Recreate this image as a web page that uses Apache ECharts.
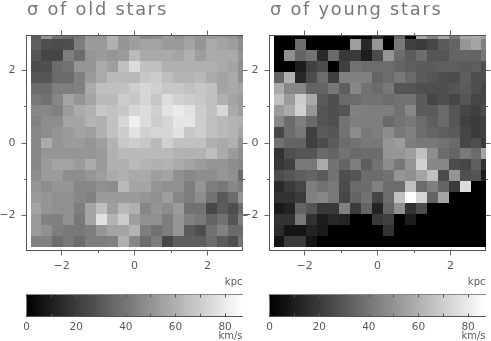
<!DOCTYPE html>
<html><head><meta charset="utf-8">
<style>html,body{margin:0;padding:0;background:#fff}#c{width:491px;height:341px;filter:blur(0.4px)}</style>
<script src="https://cdn.jsdelivr.net/npm/echarts@6/dist/echarts.min.js"></script>
</head><body><div id="c"></div>
<script>
const titles = ['σ of old stars', 'σ of young stars'];
const xCells = [-2.7,-2.4,-2.1,-1.8,-1.5,-1.2,-0.9,-0.6,-0.3,0,0.3,0.6,0.9,1.2,1.5,1.8,2.1,2.4,2.7,3.0];
const yCells = [3.0,2.7,2.4,2.1,1.8,1.5,1.2,0.9,0.6,0.3,0,-0.3,-0.6,-0.9,-1.2,-1.5,-1.8,-2.1,-2.4,-2.7];
const oldStars = [
[31,51,39,36,41,51,51,61,51,54,46,48,53,49,54,51,53,53,51,44],
[32,27,26,27,43,53,53,60,51,54,56,56,53,53,56,51,58,56,54,48],
[29,24,24,43,37,51,53,51,53,63,58,58,58,56,60,54,58,58,58,51],
[26,27,37,39,51,51,58,54,66,75,66,65,60,60,60,60,60,58,56,49],
[29,29,36,36,44,53,58,63,63,63,68,70,65,61,61,63,58,56,58,49],
[37,37,43,43,44,58,65,65,66,70,73,71,68,68,66,68,66,56,58,56],
[41,39,46,56,51,56,63,63,70,68,73,68,75,71,70,68,65,60,56,53],
[46,46,44,53,58,60,68,66,68,73,75,71,77,80,77,70,66,73,58,54],
[44,48,48,56,56,61,60,66,73,82,75,70,73,78,78,70,65,63,61,60],
[46,48,51,53,56,54,60,66,70,77,71,73,73,77,68,70,65,63,61,56],
[46,58,51,53,53,51,54,61,68,70,68,63,71,66,66,66,60,58,60,51],
[46,51,51,51,51,51,53,60,63,63,63,63,63,61,60,61,65,58,53,49],
[46,53,56,56,53,58,53,60,60,63,61,60,61,58,56,53,51,51,48,46],
[48,53,53,48,48,51,54,58,60,58,58,54,56,49,46,48,48,51,49,36],
[51,48,51,51,46,46,49,48,63,56,56,51,49,49,43,51,43,41,46,43],
[53,51,49,49,46,44,53,53,53,53,51,49,54,46,43,48,39,31,37,51],
[56,51,49,49,43,56,65,54,63,60,46,51,48,53,39,39,24,31,27,37],
[53,44,44,49,41,56,77,61,70,54,49,49,43,51,44,41,34,39,29,43],
[53,49,43,41,41,43,51,56,56,61,43,39,43,51,31,27,39,44,36,37],
[44,44,37,41,37,43,43,44,60,46,37,43,24,32,32,32,37,31,27,39]];
const youngStars = [
[0,0,0,0,0,0,0,0,0,15,3,34,0,56,44,56,41,56,58,54],
[0,0,37,0,0,0,0,54,14,51,0,41,22,20,24,31,34,51,56,44],
[0,49,34,39,14,36,19,20,10,26,51,37,31,37,29,29,34,34,34,41],
[0,0,10,22,26,0,22,39,37,37,37,34,32,31,31,32,32,31,32,27],
[34,60,14,26,37,22,44,44,44,34,37,41,36,31,29,27,26,32,27,27],
[58,46,46,34,34,41,32,46,39,36,41,29,29,27,27,27,29,31,27,24],
[66,53,70,58,31,27,36,37,39,39,37,39,39,31,24,27,24,29,24,24],
[53,58,71,51,29,27,29,44,43,43,43,39,46,31,31,36,29,24,22,26],
[46,37,43,36,29,27,39,43,43,43,36,39,41,37,32,36,29,22,20,22],
[24,37,41,22,31,29,39,48,41,43,48,41,44,37,34,32,31,24,20,22],
[39,34,34,22,26,31,37,39,41,41,51,53,43,41,41,39,36,24,27,20],
[17,27,29,29,36,34,39,36,37,37,51,51,54,65,48,37,34,41,37,56],
[19,22,41,41,58,39,34,43,32,39,48,41,51,71,46,46,26,24,32,17],
[26,29,32,34,31,39,27,29,37,37,39,51,49,56,65,26,51,27,29,10],
[14,20,24,43,39,41,26,36,37,44,37,37,65,37,43,34,20,75,0,0],
[17,17,20,44,46,41,24,34,39,24,37,66,87,73,34,56,0,0,0,0],
[9,12,34,29,19,19,44,20,34,12,34,49,17,26,0,0,0,0,0,0],
[17,17,41,17,10,14,12,0,0,19,22,0,10,0,0,0,0,0,0,0],
[15,7,7,12,9,0,0,0,0,0,17,0,0,0,0,0,0,0,0,0],
[7,20,20,7,0,0,0,0,0,0,0,0,0,0,0,0,0,0,0,0]];
const majorTicks = [-2,0,2];
const minorTicks = [-1,1];
const barTicks = [0,10,20,30,40,50,60,70,80];
const barLabels = [0,20,40,60,80];
const sigmaMax = 87;
const cellSize = 0.3;

const FONT = 'DejaVu Sans';
const INK = '#5a5a5a';
const AXLINE = {show:true,onZero:false,lineStyle:{color:'#555',width:1}};
const panels = [
 {left:26.5,width:216,title:27,data:oldStars},
 {left:269.5,width:216,title:270,data:youngStars}
];
const grids=[],xAxes=[],yAxes=[],series=[],graphic=[];
const hair=s=>s.split('').join('\u200A');
function gray(v){const g=Math.round(Math.min(1,v/sigmaMax)*255);return `rgb(${g},${g},${g})`;}
panels.forEach((p,i)=>{
  const gMain=grids.length;
  grids.push({left:p.left,width:p.width,top:35.5,height:215,outerBoundsMode:'none'});
  const xa=(pos,tv,len,lab,m)=>({gridIndex:gMain,type:'value',min:-2.96,max:2.96,position:pos,splitLine:{show:false},axisLine:AXLINE,
     axisTick:{show:true,customValues:tv,length:len,lineStyle:{color:'#666'}},
     axisLabel:lab?{show:true,customValues:majorTicks,color:INK,fontFamily:FONT,fontSize:11,margin:m,formatter:v=>v<0?'\u2212'+(-v):''+v}:{show:false}});
  const xStart=xAxes.length, yStart=yAxes.length;
  xAxes.push(xa('bottom',majorTicks,5,true,10),xa('top',majorTicks,5,false),xa('bottom',minorTicks,2.5,false),xa('top',minorTicks,2.5,false));
  yAxes.push(xa('left',majorTicks,5,true,11),xa('right',majorTicks,5,false),xa('left',minorTicks,2.5,false),xa('right',minorTicks,2.5,false));
  const cells=[];
  p.data.forEach((row,r)=>row.forEach((v,c)=>cells.push([xCells[c],yCells[r],v])));
  series.push({type:'custom',xAxisIndex:xStart,yAxisIndex:yStart,clip:true,silent:true,animation:false,
    data:cells,encode:{x:0,y:1},
    renderItem:(params,api)=>{
      const x=api.value(0),y=api.value(1),v=api.value(2);
      const a=api.coord([x-cellSize/2,y+cellSize/2]),b=api.coord([x+cellSize/2,y-cellSize/2]);
      const cs=params.coordSys;
      const x0=Math.round(Math.max(a[0],cs.x)),x1=Math.round(Math.min(b[0],cs.x+cs.width)),y0=Math.round(Math.max(a[1],cs.y)),y1=Math.round(Math.min(b[1],cs.y+cs.height));
      return {type:'rect',shape:{x:x0,y:y0,width:x1-x0,height:y1-y0},style:{fill:gray(v)}};
    }});
  const gBar=grids.length;
  grids.push({left:p.left,width:p.width,top:294.5,height:22,outerBoundsMode:'none'});
  const ba=(pos,lab)=>({gridIndex:gBar,type:'value',min:0,max:sigmaMax,position:pos,splitLine:{show:false},axisLine:{show:true,onZero:false,lineStyle:{color:lab?'#555':'#888'}},
     axisTick:{show:true,inside:true,customValues:barTicks,length:3,lineStyle:{color:'#555'}},
     axisLabel:lab?{show:true,customValues:barLabels,color:INK,fontFamily:FONT,fontSize:10.5,margin:5}:{show:false}});
  const bx=xAxes.length, by=yAxes.length;
  xAxes.push(ba('bottom',true),ba('top',false));
  yAxes.push({gridIndex:gBar,type:'value',min:0,max:1,show:false});
  series.push({type:'custom',xAxisIndex:bx,yAxisIndex:by,silent:true,animation:false,z:0,data:[[0,sigmaMax]],encode:{x:[0,1]},
    renderItem:(params,api)=>{
      const a=api.coord([api.value(0),1]),b=api.coord([api.value(1),0]);
      return {type:'rect',shape:{x:a[0],y:a[1],width:b[0]-a[0],height:b[1]-a[1]},
        style:{fill:new echarts.graphic.LinearGradient(0,0,1,0,[{offset:0,color:'#000'},{offset:1,color:'#fff'}])}};
    }});
  graphic.push({type:'text',left:p.title,top:1,style:{text:hair(titles[i]),fill:'#777',font:`17.8px "${FONT}"`}});
  graphic.push({type:'text',right:491-(p.left+p.width),top:277,style:{text:'kpc',fill:INK,font:`10px "${FONT}"`}});
  graphic.push({type:'text',right:491-(p.left+p.width),top:331,style:{text:'km/s',fill:INK,font:`10px "${FONT}"`}});
});
const chart=echarts.init(document.getElementById('c'),null,{renderer:'canvas'});
chart.setOption({animation:false,backgroundColor:'#fff',grid:grids,xAxis:xAxes,yAxis:yAxes,series,graphic});
</script></body></html>
